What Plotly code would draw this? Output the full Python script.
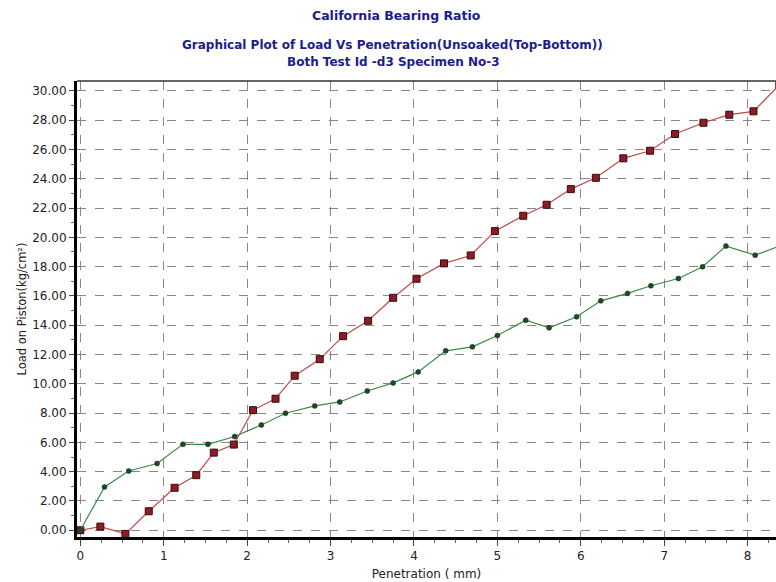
import plotly.graph_objects as go

# Unsoaked top-bottom specimen: red squares
pen_red = [0.0, 0.24, 0.54, 0.82, 1.13, 1.39, 1.60, 1.84, 2.07, 2.34, 2.57, 2.87, 3.15, 3.45,
           3.75, 4.03, 4.36, 4.68, 4.97, 5.31, 5.59, 5.88, 6.18, 6.51, 6.83, 7.13, 7.47,
           7.78, 8.07, 8.38]
load_red = [0.0, 0.25, -0.25, 1.30, 2.90, 3.76, 5.30, 5.85, 8.20, 8.98, 10.55, 11.68, 13.25,
            14.30, 15.87, 17.17, 18.22, 18.76, 20.42, 21.47, 22.22, 23.29, 24.06, 25.39,
            25.91, 27.05, 27.82, 28.37, 28.60, 30.40]

# Second curve: green dots
pen_green = [0.0, 0.29, 0.58, 0.92, 1.23, 1.53, 1.85, 2.17, 2.46, 2.81, 3.11, 3.44, 3.75,
             4.05, 4.38, 4.70, 5.00, 5.34, 5.62, 5.95, 6.24, 6.56, 6.84, 7.17, 7.46, 7.74,
             8.09, 8.38]
load_green = [0.0, 2.96, 4.05, 4.56, 5.87, 5.87, 6.40, 7.19, 7.99, 8.49, 8.76, 9.51, 10.06,
              10.81, 12.25, 12.52, 13.30, 14.34, 13.82, 14.57, 15.66, 16.17, 16.69, 17.19,
              17.99, 19.40, 18.78, 19.40]

x_ticks = [0, 1, 2, 3, 4, 5, 6, 7, 8]
y_ticks = [0, 2, 4, 6, 8, 10, 12, 14, 16, 18, 20, 22, 24, 26, 28, 30]

title_color = "#1c1c8c"
font = "DejaVu Sans, Verdana, sans-serif"

W, H = 776, 582
ML, MR, MT, MB = 77, 0, 81, 45

fig = go.Figure()
fig.add_trace(go.Scatter(
    x=pen_red, y=load_red, mode="lines+markers",
    line=dict(color="#c04a4a", width=1.2),
    marker=dict(symbol="square", size=7, color="#8c1c28",
                line=dict(color="#3a0a0a", width=1)),
    showlegend=False, cliponaxis=True))
fig.add_trace(go.Scatter(
    x=pen_green, y=load_green, mode="lines+markers",
    line=dict(color="#3c8a48", width=1.2),
    marker=dict(symbol="circle", size=5, color="#1e4a28",
                line=dict(color="#0e2a14", width=0.5)),
    showlegend=False, cliponaxis=True))

ph = H - MT - MB
pw = W - ML - MR
def py(pix):
    return (H - MB - pix) / ph
def px(pix):
    return (pix - ML) / pw

fig.update_layout(
    width=W, height=H,
    margin=dict(l=ML, r=MR, t=MT, b=MB),
    paper_bgcolor="white", plot_bgcolor="white",
    font=dict(family=font, size=12, color="#222222"),
    annotations=[
        dict(text="<b>California Bearing Ratio</b>", x=px(396), y=py(15),
             xref="paper", yref="paper", showarrow=False, xanchor="center",
             yanchor="middle", font=dict(size=12.5, color=title_color)),
        dict(text="<b>Graphical Plot of Load Vs Penetration(Unsoaked(Top-Bottom))</b>",
             x=px(392), y=py(45), xref="paper", yref="paper", showarrow=False,
             xanchor="center", yanchor="middle", font=dict(size=12, color=title_color)),
        dict(text="<b>Both Test Id -d3 Specimen No-3</b>",
             x=px(393), y=py(62), xref="paper", yref="paper", showarrow=False,
             xanchor="center", yanchor="middle", font=dict(size=12, color=title_color)),
    ],
)

fig.update_xaxes(
    range=[-0.04, 8.34], tickvals=x_ticks, ticktext=[str(v) for v in x_ticks],
    showgrid=True, gridcolor="#888888", griddash="dash", gridwidth=1,
    zeroline=False, showline=True, linecolor="black", linewidth=3,
    ticks="outside", ticklen=6, tickcolor="#444444",
    tickfont=dict(size=12, color="#222222"),
    minor=dict(dtick=0.25, ticks="outside", ticklen=3, tickcolor="#666666", showgrid=False),
    title=dict(text="Penetration ( mm)", font=dict(size=12, color="#222222"), standoff=8),
)
fig.update_yaxes(
    range=[-0.46, 30.67], tickvals=y_ticks, ticktext=[f"{v:.2f}" for v in y_ticks],
    showgrid=True, gridcolor="#888888", griddash="dash", gridwidth=1,
    zeroline=False, showline=True, linecolor="black", linewidth=3,
    ticks="outside", ticklen=5, tickcolor="#444444",
    tickfont=dict(size=12, color="#222222"),
    minor=dict(dtick=1, ticks="outside", ticklen=3, tickcolor="#666666", showgrid=False),
    title=dict(text="Load on Piston(kg/cm²)", font=dict(size=11.5, color="#222222"), standoff=4),
)
fig.add_shape(type="line", xref="paper", yref="paper", x0=0, x1=1, y0=1, y1=1,
              line=dict(color="#333333", width=1.5))

fig.write_html("out.html")
